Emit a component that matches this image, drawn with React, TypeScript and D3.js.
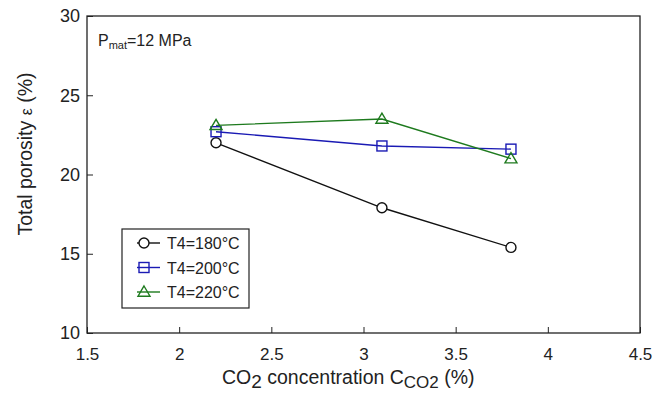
import React, { useEffect, useRef } from "react";
import * as d3 from "d3";

// CO2 concentration (%)
const concentrations = [2.2, 3.1, 3.8];
const seriesNames = ["T4=180°C", "T4=200°C", "T4=220°C"];
const porosity180 = [22.0, 17.9, 15.4];
const porosity200 = [22.7, 21.8, 21.6];
const porosity220 = [23.1, 23.5, 21.0];
const xTicks = [1.5, 2, 2.5, 3, 3.5, 4, 4.5];
const yTicks = [10, 15, 20, 25, 30];

const W = 672;
const H = 396;
const margin = { left: 87, right: 32, top: 16, bottom: 63 };
const FONT = "Liberation Sans, Arial, sans-serif";

const App = () => {
  const ref = useRef(null);

  useEffect(() => {
    const root = d3.select(ref.current);
    root.selectAll("*").remove();

    const x = d3.scaleLinear().domain([1.5, 4.5]).range([margin.left, W - margin.right]);
    const y = d3.scaleLinear().domain([10, 30]).range([H - margin.bottom, margin.top]);

    const series = [
      { name: seriesNames[0], values: porosity180, color: "#111", marker: "circle" },
      { name: seriesNames[1], values: porosity200, color: "#1a1ab4", marker: "square" },
      { name: seriesNames[2], values: porosity220, color: "#1e7a1e", marker: "triangle" },
    ];

    // frame
    root
      .append("rect")
      .attr("x", x(1.5))
      .attr("y", y(30))
      .attr("width", x(4.5) - x(1.5))
      .attr("height", y(10) - y(30))
      .attr("fill", "none")
      .attr("stroke", "#222")
      .attr("stroke-width", 1.3);

    // x axis, ticks inside
    const xAxis = root
      .append("g")
      .attr("transform", `translate(0,${y(10)})`)
      .call(
        d3
          .axisBottom(x)
          .tickValues(xTicks)
          .tickSize(-6)
          .tickFormat((d: any) => String(d))
      );
    xAxis.select(".domain").remove();
    xAxis.selectAll("line").attr("stroke", "#222");
    xAxis
      .selectAll("text")
      .attr("y", 15)
      .attr("dy", "0.71em")
      .attr("font-family", FONT)
      .attr("font-size", 17)
      .attr("fill", "#222");

    const yAxis = root
      .append("g")
      .attr("transform", `translate(${x(1.5)},0)`)
      .call(d3.axisLeft(y).tickValues(yTicks).tickSize(-6));
    yAxis.select(".domain").remove();
    yAxis.selectAll("line").attr("stroke", "#222");
    yAxis
      .selectAll("text")
      .attr("x", -7)
      .attr("font-family", FONT)
      .attr("font-size", 18)
      .attr("fill", "#222");

    // axis titles
    const yt = root
      .append("text")
      .attr("transform", `translate(32,154) rotate(-90)`)
      .attr("text-anchor", "middle")
      .attr("font-family", FONT)
      .attr("font-size", 19.5)
      .attr("fill", "#222");
    yt.append("tspan").text("Total porosity ");
    yt.append("tspan").attr("font-size", 16).text("ε");
    yt.append("tspan").text(" (%)");

    const xt = root
      .append("text")
      .attr("x", 222)
      .attr("y", 384)
      .attr("font-family", FONT)
      .attr("font-size", 19.5)
      .attr("fill", "#222");
    xt.append("tspan").text("CO");
    xt.append("tspan").attr("dy", 4).attr("font-size", 19).text("2");
    xt.append("tspan").attr("dy", -4).text(" concentration C");
    xt.append("tspan").attr("dy", 4).attr("font-size", 17).text("CO2");
    xt.append("tspan").attr("dy", -4).text(" (%)");

    // annotation
    const ann = root
      .append("text")
      .attr("x", 98)
      .attr("y", 46)
      .attr("font-family", FONT)
      .attr("font-size", 16)
      .attr("fill", "#222");
    ann.append("tspan").text("P");
    ann.append("tspan").attr("dy", 3).attr("font-size", 11).text("mat");
    ann.append("tspan").attr("dy", -3).text("=12 MPa");

    const drawMarker = (g: any, kind: string, cx: number, cy: number, color: string) => {
      if (kind === "circle") {
        g.append("circle")
          .attr("cx", cx)
          .attr("cy", cy)
          .attr("r", 5)
          .attr("fill", "white")
          .attr("stroke", color)
          .attr("stroke-width", 1.4);
      } else if (kind === "square") {
        g.append("rect")
          .attr("x", cx - 5)
          .attr("y", cy - 5)
          .attr("width", 10)
          .attr("height", 10)
          .attr("fill", "none")
          .attr("stroke", color)
          .attr("stroke-width", 1.4);
      } else {
        const s = 6;
        g.append("path")
          .attr("d", `M${cx},${cy - s} L${cx + s},${cy + s * 0.7} L${cx - s},${cy + s * 0.7} Z`)
          .attr("fill", "none")
          .attr("stroke", color)
          .attr("stroke-width", 1.4);
      }
    };

    const line = d3
      .line<number>()
      .x((_d, i) => x(concentrations[i]))
      .y((d) => y(d));

    series.forEach((s) => {
      root
        .append("path")
        .datum(s.values)
        .attr("d", line)
        .attr("fill", "none")
        .attr("stroke", s.color)
        .attr("stroke-width", 1.4);
    });
    series.forEach((s) => {
      const g = root.append("g");
      s.values.forEach((v, i) => drawMarker(g, s.marker, x(concentrations[i]), y(v), s.color));
    });

    // legend
    const lg = root.append("g").attr("transform", "translate(122,229)");
    lg.append("rect")
      .attr("width", 127)
      .attr("height", 79)
      .attr("fill", "white")
      .attr("stroke", "#222")
      .attr("stroke-width", 1.2);
    series.forEach((s, i) => {
      const cy = 14 + i * 24.5;
      lg.append("line")
        .attr("x1", 15)
        .attr("x2", 38)
        .attr("y1", cy)
        .attr("y2", cy)
        .attr("stroke", s.color)
        .attr("stroke-width", 1.4);
      drawMarker(lg, s.marker, 22, cy, s.color);
      lg.append("text")
        .attr("x", 45)
        .attr("y", cy + 6)
        .attr("font-family", FONT)
        .attr("font-size", 16)
        .attr("fill", "#222")
        .text(s.name);
    });
  }, []);

  return (
    <svg
      ref={ref}
      width={W}
      height={H}
      style={{ position: "absolute", left: 0, top: 0, background: "white" }}
    ></svg>
  );
};

export default App;
